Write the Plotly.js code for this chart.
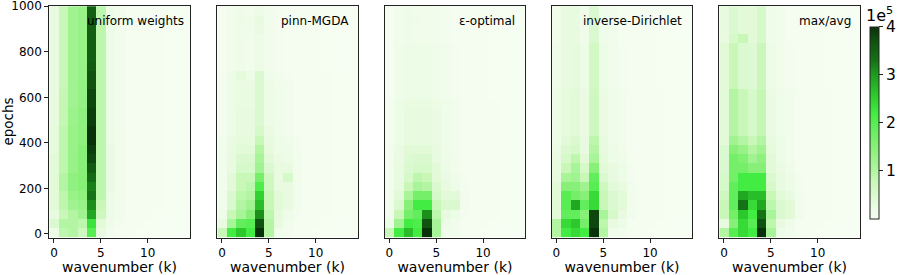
<!DOCTYPE html>
<html>
<head>
<meta charset="utf-8">
<script src="https://cdn.plot.ly/plotly-3.0.1.min.js"></script>
<style>html,body{margin:0;padding:0;background:#fff;}#chart{width:900px;height:275px;}</style>
</head>
<body>
<div id="chart"></div>
<script>
// wavenumber columns
const wavenumbers = [0,1,2,3,4,5,6,7,8,9,10,11,12,13,14];
// epoch row edges (25 rows)
const epochEdges = [-16,24.6,65.3,105.9,146.6,187.2,227.8,268.5,309.1,349.8,390.4,431,471.7,512.3,552.9,593.6,634.2,674.9,715.5,756.2,796.8,837.4,878.1,918.7,959.4,1000];
const xTicks = [0,5,10];
const yTicks = [0,200,400,600,800,1000];
const cbTicks = [1,2,3,4];
const panelTitles = ['uniform weights','pinn-MGDA','ε-optimal','inverse-Dirichlet','max/avg'];

// values in units of 1e5, rows bottom (epoch 0) to top
const zUniform = [
[0.2,0.9,1.0,0.7,2.0,0.3,0.1,0.06,0.04,0.03,0.03,0.02,0.02,0.02,0.02],
[0.5,1.0,1.0,0.9,2.3,0.4,0.15,0.08,0.05,0.04,0.03,0.03,0.02,0.02,0.02],
[0.3,0.8,1.0,1.2,2.9,0.7,0.2,0.1,0.06,0.05,0.04,0.03,0.03,0.03,0.02],
[0.4,0.9,1.2,1.3,3.1,0.8,0.2,0.1,0.06,0.05,0.04,0.04,0.03,0.03,0.03],
[0.4,0.9,1.3,1.4,3.3,0.9,0.22,0.1,0.06,0.05,0.04,0.04,0.03,0.03,0.03],
[0.4,1.0,1.4,1.5,3.2,0.9,0.25,0.1,0.06,0.05,0.04,0.04,0.03,0.03,0.03],
[0.4,1.0,1.4,1.5,3.4,0.9,0.25,0.1,0.06,0.05,0.04,0.04,0.03,0.03,0.03],
[0.4,0.9,1.3,1.5,3.6,0.9,0.25,0.1,0.06,0.05,0.04,0.04,0.03,0.03,0.03],
[0.4,0.9,1.3,1.5,3.8,0.9,0.25,0.1,0.06,0.05,0.04,0.04,0.03,0.03,0.03],
[0.35,0.9,1.3,1.5,3.9,0.9,0.25,0.1,0.06,0.05,0.04,0.04,0.03,0.03,0.03],
[0.35,0.9,1.3,1.4,4.0,0.9,0.22,0.1,0.06,0.05,0.04,0.04,0.03,0.03,0.03],
[0.35,0.9,1.3,1.4,4.0,0.9,0.22,0.1,0.06,0.05,0.04,0.04,0.03,0.03,0.03],
[0.3,0.85,1.25,1.4,3.9,0.9,0.2,0.1,0.06,0.05,0.04,0.04,0.03,0.03,0.03],
[0.3,0.85,1.25,1.4,3.9,0.9,0.2,0.1,0.06,0.05,0.04,0.04,0.03,0.03,0.03],
[0.3,0.85,1.2,1.35,3.8,0.9,0.2,0.1,0.06,0.05,0.04,0.04,0.03,0.03,0.03],
[0.3,0.85,1.2,1.35,3.8,0.9,0.2,0.1,0.06,0.05,0.04,0.04,0.03,0.03,0.03],
[0.3,0.8,1.2,1.35,3.7,0.9,0.2,0.1,0.06,0.05,0.04,0.04,0.03,0.03,0.03],
[0.3,0.8,1.2,1.3,3.7,0.9,0.2,0.1,0.06,0.05,0.04,0.04,0.03,0.03,0.03],
[0.3,0.8,1.2,1.3,3.6,0.9,0.2,0.1,0.06,0.05,0.04,0.04,0.03,0.03,0.03],
[0.3,0.8,1.2,1.3,3.55,0.9,0.2,0.1,0.06,0.05,0.04,0.04,0.03,0.03,0.03],
[0.3,0.8,1.2,1.3,3.55,0.9,0.2,0.1,0.06,0.05,0.04,0.04,0.03,0.03,0.03],
[0.3,0.8,1.2,1.3,3.55,0.9,0.2,0.1,0.06,0.05,0.04,0.04,0.03,0.03,0.03],
[0.3,0.8,1.2,1.3,3.55,0.9,0.2,0.1,0.06,0.05,0.04,0.04,0.03,0.03,0.03],
[0.3,0.8,1.2,1.3,3.55,0.9,0.2,0.1,0.06,0.05,0.04,0.04,0.03,0.03,0.03],
[0.3,0.8,1.2,1.3,3.55,0.9,0.2,0.1,0.06,0.05,0.04,0.04,0.03,0.03,0.03]
];
const zMGDA = [
[0.8,2.2,2.6,2.2,4.1,1.0,0.15,0.1,0.05,0.04,0.03,0.03,0.02,0.02,0.02],
[0.3,1.1,1.9,2.0,3.7,1.0,0.3,0.1,0.06,0.05,0.04,0.03,0.03,0.02,0.02],
[0.15,0.8,1.1,1.5,3.1,0.9,0.35,0.15,0.08,0.06,0.05,0.04,0.03,0.03,0.02],
[0.1,0.5,1.0,1.2,2.7,0.8,0.4,0.3,0.1,0.07,0.05,0.04,0.03,0.03,0.02],
[0.1,0.5,0.9,1.0,2.5,0.8,0.4,0.3,0.1,0.07,0.05,0.04,0.03,0.03,0.02],
[0.1,0.4,0.8,0.9,2.1,0.7,0.3,0.3,0.1,0.07,0.05,0.04,0.03,0.03,0.02],
[0.1,0.4,0.8,0.8,1.7,0.7,0.3,0.6,0.12,0.07,0.05,0.04,0.03,0.03,0.02],
[0.1,0.3,0.6,0.6,1.2,0.5,0.3,0.3,0.1,0.07,0.05,0.04,0.03,0.03,0.02],
[0.1,0.3,0.5,0.5,1.1,0.4,0.25,0.2,0.1,0.06,0.05,0.04,0.03,0.03,0.02],
[0.1,0.3,0.4,0.4,1.0,0.35,0.2,0.2,0.08,0.06,0.05,0.04,0.03,0.03,0.02],
[0.1,0.25,0.35,0.35,0.8,0.3,0.2,0.15,0.08,0.06,0.05,0.04,0.03,0.03,0.02],
[0.08,0.2,0.3,0.3,0.6,0.25,0.15,0.1,0.06,0.05,0.04,0.04,0.03,0.03,0.02],
[0.08,0.2,0.3,0.3,0.5,0.2,0.15,0.1,0.06,0.05,0.04,0.04,0.03,0.03,0.02],
[0.08,0.2,0.3,0.3,0.5,0.2,0.15,0.1,0.06,0.05,0.04,0.04,0.03,0.03,0.02],
[0.08,0.2,0.28,0.28,0.5,0.2,0.15,0.1,0.06,0.05,0.04,0.04,0.03,0.03,0.02],
[0.08,0.2,0.28,0.28,0.5,0.2,0.15,0.1,0.06,0.05,0.04,0.04,0.03,0.03,0.02],
[0.08,0.2,0.28,0.25,0.5,0.2,0.12,0.1,0.06,0.05,0.04,0.04,0.03,0.03,0.02],
[0.08,0.2,0.35,0.2,0.5,0.15,0.1,0.08,0.05,0.05,0.04,0.04,0.03,0.03,0.02],
[0.06,0.12,0.15,0.12,0.2,0.1,0.08,0.06,0.05,0.04,0.04,0.03,0.03,0.02,0.02],
[0.06,0.12,0.15,0.12,0.2,0.1,0.08,0.06,0.05,0.04,0.04,0.03,0.03,0.02,0.02],
[0.06,0.12,0.15,0.12,0.2,0.1,0.08,0.06,0.05,0.04,0.04,0.03,0.03,0.02,0.02],
[0.06,0.12,0.15,0.12,0.2,0.1,0.08,0.06,0.05,0.04,0.04,0.03,0.03,0.02,0.02],
[0.06,0.12,0.18,0.15,0.25,0.1,0.08,0.06,0.05,0.04,0.04,0.03,0.03,0.02,0.02],
[0.06,0.12,0.2,0.18,0.3,0.1,0.08,0.06,0.05,0.04,0.04,0.03,0.03,0.02,0.02],
[0.06,0.1,0.15,0.12,0.2,0.1,0.08,0.06,0.05,0.04,0.04,0.03,0.03,0.02,0.02]
];
const zEpsOpt = [
[0.8,2.2,2.7,2.2,4.1,1.1,0.15,0.1,0.05,0.04,0.03,0.03,0.02,0.02,0.02],
[0.2,1.2,2.2,2.1,3.7,1.1,0.2,0.1,0.06,0.05,0.04,0.03,0.03,0.02,0.02],
[0.1,0.8,1.7,1.9,3.1,0.9,0.3,0.2,0.08,0.06,0.05,0.04,0.03,0.03,0.02],
[0.1,0.5,1.5,2.2,2.2,0.8,0.5,0.5,0.1,0.07,0.05,0.04,0.03,0.03,0.02],
[0.1,0.4,1.1,1.7,1.7,0.6,0.4,0.4,0.1,0.07,0.05,0.04,0.03,0.03,0.02],
[0.1,0.3,0.8,1.1,1.0,0.5,0.3,0.2,0.08,0.06,0.05,0.04,0.03,0.03,0.02],
[0.1,0.3,0.6,0.9,0.8,0.4,0.25,0.15,0.08,0.06,0.05,0.04,0.03,0.03,0.02],
[0.1,0.3,0.5,0.6,0.6,0.4,0.2,0.12,0.06,0.05,0.04,0.04,0.03,0.03,0.02],
[0.1,0.25,0.45,0.5,0.5,0.3,0.2,0.1,0.06,0.05,0.04,0.04,0.03,0.03,0.02],
[0.1,0.25,0.4,0.4,0.4,0.3,0.15,0.1,0.06,0.05,0.04,0.04,0.03,0.03,0.02],
[0.08,0.2,0.3,0.3,0.3,0.25,0.15,0.1,0.06,0.05,0.04,0.04,0.03,0.03,0.02],
[0.08,0.2,0.3,0.3,0.3,0.25,0.15,0.1,0.06,0.05,0.04,0.04,0.03,0.03,0.02],
[0.08,0.2,0.3,0.3,0.3,0.25,0.15,0.1,0.06,0.05,0.04,0.04,0.03,0.03,0.02],
[0.08,0.2,0.3,0.3,0.3,0.25,0.15,0.1,0.06,0.05,0.04,0.04,0.03,0.03,0.02],
[0.08,0.2,0.28,0.28,0.28,0.22,0.15,0.1,0.06,0.05,0.04,0.04,0.03,0.03,0.02],
[0.06,0.15,0.2,0.2,0.2,0.15,0.1,0.08,0.05,0.05,0.04,0.03,0.03,0.03,0.02],
[0.06,0.15,0.2,0.2,0.2,0.15,0.1,0.08,0.05,0.05,0.04,0.03,0.03,0.03,0.02],
[0.06,0.15,0.2,0.2,0.2,0.15,0.1,0.08,0.05,0.05,0.04,0.03,0.03,0.03,0.02],
[0.06,0.15,0.2,0.2,0.2,0.15,0.1,0.08,0.05,0.05,0.04,0.03,0.03,0.03,0.02],
[0.06,0.15,0.2,0.2,0.2,0.15,0.1,0.08,0.05,0.05,0.04,0.03,0.03,0.03,0.02],
[0.06,0.15,0.2,0.2,0.2,0.15,0.1,0.08,0.05,0.05,0.04,0.03,0.03,0.03,0.02],
[0.05,0.1,0.15,0.12,0.12,0.1,0.08,0.06,0.05,0.04,0.04,0.03,0.03,0.02,0.02],
[0.05,0.1,0.18,0.12,0.12,0.1,0.08,0.06,0.05,0.04,0.04,0.03,0.03,0.02,0.02],
[0.05,0.1,0.2,0.15,0.12,0.1,0.08,0.06,0.05,0.04,0.04,0.03,0.03,0.02,0.02],
[0.05,0.1,0.15,0.12,0.12,0.1,0.08,0.06,0.05,0.04,0.04,0.03,0.03,0.02,0.02]
];
const zInvDir = [
[1.0,2.2,2.4,2.2,4.1,1.0,0.15,0.1,0.05,0.04,0.03,0.03,0.02,0.02,0.02],
[1.0,2.4,2.6,1.7,3.8,0.9,0.3,0.2,0.06,0.05,0.04,0.03,0.03,0.02,0.02],
[0.4,1.9,1.9,1.5,3.8,1.1,0.6,0.3,0.1,0.06,0.05,0.04,0.03,0.03,0.02],
[0.4,2.0,2.9,1.9,2.4,0.8,0.5,0.4,0.1,0.07,0.05,0.04,0.03,0.03,0.02],
[0.4,2.0,1.7,1.5,2.4,0.8,0.5,0.4,0.1,0.07,0.05,0.04,0.03,0.03,0.02],
[0.4,1.5,1.5,1.2,2.0,0.7,0.4,0.3,0.1,0.07,0.05,0.04,0.03,0.03,0.02],
[0.3,1.1,1.2,0.8,1.9,0.5,0.3,0.2,0.08,0.06,0.05,0.04,0.03,0.03,0.02],
[0.3,0.8,1.1,0.6,1.5,0.4,0.3,0.2,0.08,0.06,0.05,0.04,0.03,0.03,0.02],
[0.3,0.6,0.9,0.4,1.1,0.35,0.2,0.15,0.07,0.06,0.05,0.04,0.03,0.03,0.02],
[0.25,0.5,0.6,0.3,1.0,0.3,0.2,0.12,0.07,0.06,0.05,0.04,0.03,0.03,0.02],
[0.2,0.4,0.5,0.3,0.9,0.3,0.15,0.1,0.06,0.05,0.04,0.04,0.03,0.03,0.02],
[0.2,0.35,0.4,0.25,0.7,0.25,0.15,0.1,0.06,0.05,0.04,0.04,0.03,0.03,0.02],
[0.2,0.35,0.4,0.25,0.7,0.25,0.15,0.1,0.06,0.05,0.04,0.04,0.03,0.03,0.02],
[0.2,0.35,0.4,0.25,0.7,0.25,0.15,0.1,0.06,0.05,0.04,0.04,0.03,0.03,0.02],
[0.2,0.35,0.4,0.25,0.7,0.25,0.15,0.1,0.06,0.05,0.04,0.04,0.03,0.03,0.02],
[0.2,0.35,0.4,0.25,0.7,0.25,0.15,0.1,0.06,0.05,0.04,0.04,0.03,0.03,0.02],
[0.15,0.3,0.35,0.2,0.65,0.2,0.12,0.08,0.05,0.05,0.04,0.03,0.03,0.03,0.02],
[0.15,0.3,0.35,0.2,0.65,0.2,0.12,0.08,0.05,0.05,0.04,0.03,0.03,0.03,0.02],
[0.15,0.3,0.35,0.2,0.65,0.2,0.12,0.08,0.05,0.05,0.04,0.03,0.03,0.03,0.02],
[0.15,0.3,0.35,0.2,0.65,0.2,0.12,0.08,0.05,0.05,0.04,0.03,0.03,0.03,0.02],
[0.15,0.3,0.35,0.2,0.65,0.2,0.12,0.08,0.05,0.05,0.04,0.03,0.03,0.03,0.02],
[0.12,0.3,0.3,0.15,0.5,0.15,0.1,0.06,0.05,0.04,0.04,0.03,0.03,0.02,0.02],
[0.12,0.3,0.3,0.15,0.5,0.15,0.1,0.06,0.05,0.04,0.04,0.03,0.03,0.02,0.02],
[0.12,0.3,0.3,0.15,0.5,0.15,0.1,0.06,0.05,0.04,0.04,0.03,0.03,0.02,0.02],
[0.12,0.3,0.3,0.15,0.5,0.15,0.1,0.06,0.05,0.04,0.04,0.03,0.03,0.02,0.02]
];
const zMaxAvg = [
[1.0,2.0,2.4,2.2,4.1,1.1,0.2,0.1,0.05,0.04,0.03,0.03,0.02,0.02,0.02],
[0.3,1.5,2.4,2.0,3.7,0.9,0.3,0.15,0.06,0.05,0.04,0.03,0.03,0.02,0.02],
[0.8,1.7,2.6,2.2,3.3,1.1,0.5,0.4,0.1,0.06,0.05,0.04,0.03,0.03,0.02],
[0.8,1.9,3.3,2.4,2.9,0.9,0.5,0.4,0.1,0.07,0.05,0.04,0.03,0.03,0.02],
[0.7,1.9,2.9,2.7,2.7,0.8,0.4,0.3,0.1,0.07,0.05,0.04,0.03,0.03,0.02],
[0.6,1.9,2.2,2.2,2.2,0.6,0.3,0.2,0.08,0.06,0.05,0.04,0.03,0.03,0.02],
[0.6,1.7,2.2,2.2,2.2,0.5,0.3,0.2,0.08,0.06,0.05,0.04,0.03,0.03,0.02],
[0.5,1.7,1.7,1.5,1.5,0.4,0.25,0.15,0.07,0.06,0.05,0.04,0.03,0.03,0.02],
[0.5,1.7,1.6,1.2,1.4,0.4,0.2,0.12,0.07,0.06,0.05,0.04,0.03,0.03,0.02],
[0.5,1.5,1.3,1.0,1.2,0.35,0.2,0.1,0.06,0.05,0.04,0.04,0.03,0.03,0.02],
[0.4,1.2,1.0,0.8,1.0,0.3,0.2,0.1,0.06,0.05,0.04,0.04,0.03,0.03,0.02],
[0.4,1.0,0.8,0.6,0.85,0.25,0.15,0.1,0.06,0.05,0.04,0.04,0.03,0.03,0.02],
[0.4,1.0,0.8,0.6,0.85,0.25,0.15,0.1,0.06,0.05,0.04,0.04,0.03,0.03,0.02],
[0.4,1.0,0.8,0.6,0.85,0.25,0.15,0.1,0.06,0.05,0.04,0.04,0.03,0.03,0.02],
[0.4,1.0,0.8,0.6,0.85,0.25,0.15,0.1,0.06,0.05,0.04,0.04,0.03,0.03,0.02],
[0.4,1.0,0.8,0.6,0.85,0.25,0.15,0.1,0.06,0.05,0.04,0.04,0.03,0.03,0.02],
[0.4,0.8,0.5,0.45,0.75,0.2,0.12,0.08,0.05,0.05,0.04,0.03,0.03,0.03,0.02],
[0.4,0.8,0.5,0.45,0.75,0.2,0.12,0.08,0.05,0.05,0.04,0.03,0.03,0.03,0.02],
[0.4,0.8,0.5,0.45,0.75,0.2,0.12,0.08,0.05,0.05,0.04,0.03,0.03,0.03,0.02],
[0.4,0.8,0.5,0.45,0.75,0.2,0.12,0.08,0.05,0.05,0.04,0.03,0.03,0.03,0.02],
[0.4,0.8,0.5,0.45,0.75,0.2,0.12,0.08,0.05,0.05,0.04,0.03,0.03,0.03,0.02],
[0.3,0.6,0.8,0.4,0.6,0.15,0.1,0.06,0.05,0.04,0.04,0.03,0.03,0.02,0.02],
[0.3,0.5,0.4,0.4,0.6,0.15,0.1,0.06,0.05,0.04,0.04,0.03,0.03,0.02,0.02],
[0.3,0.5,0.4,0.4,0.6,0.15,0.1,0.06,0.05,0.04,0.04,0.03,0.03,0.02,0.02],
[0.3,0.5,0.4,0.4,0.6,0.15,0.1,0.06,0.05,0.04,0.04,0.03,0.03,0.02,0.02]
];
const panels = [zUniform, zMGDA, zEpsOpt, zInvDir, zMaxAvg];
const SCALE = 1e5;

const FONT = 'DejaVu Sans, Liberation Sans, sans-serif';
const W = 900, H = 275;
const panelLeft = [49.3, 217.3, 384.7, 551.7, 719.3];
const titleX = [0.973, 0.95, 0.945, 0.94, 0.955];
const panelWidth = 140.5;
const plotTop = 5.6, plotBottom = 237.5;

const colorscale = [
  [0.0,'#f7fdf3'],
  [0.075,'#e8fbe0'],
  [0.2,'#c8f7b8'],
  [0.275,'#a8f498'],
  [0.375,'#88f078'],
  [0.475,'#62ee5c'],
  [0.55,'#42ec42'],
  [0.65,'#2cc82c'],
  [0.75,'#1f9c1f'],
  [0.825,'#167216'],
  [0.925,'#105210'],
  [1.0,'#0a320a']
];

const data = panels.map((z, i) => ({
  type: 'heatmap',
  x: wavenumbers,
  y: epochEdges,
  z: z.map(row => row.map(v => v * SCALE)),
  coloraxis: 'coloraxis',
  xaxis: i === 0 ? 'x' : 'x' + (i + 1),
  yaxis: i === 0 ? 'y' : 'y' + (i + 1),
  hoverinfo: 'skip'
}));

const layout = {
  width: W, height: H,
  margin: {l: 0, r: 0, t: 0, b: 0},
  paper_bgcolor: '#ffffff',
  plot_bgcolor: '#ffffff',
  font: {family: FONT, color: '#000', size: 12},
  showlegend: false,
  coloraxis: {
    cmin: 0, cmax: 4 * SCALE,
    colorscale: colorscale,
    colorbar: {
      thickness: 9, thicknessmode: 'pixels',
      len: 192, lenmode: 'pixels',
      x: 869.5 / W, xanchor: 'left', xref: 'paper',
      y: 1 - 122.9 / H, yanchor: 'middle', yref: 'paper',
      xpad: 0, ypad: 0,
      outlinewidth: 1, outlinecolor: '#222',
      tickvals: cbTicks.map(v => v * SCALE),
      ticktext: cbTicks.map(String),
      ticks: 'outside', ticklen: 4, tickwidth: 1, tickcolor: '#222',
      tickfont: {family: FONT, size: 15.5, color: '#000'}
    }
  },
  annotations: []
};

panelTitles.forEach((t, i) => {
  const xa = i === 0 ? 'xaxis' : 'xaxis' + (i + 1);
  const ya = i === 0 ? 'yaxis' : 'yaxis' + (i + 1);
  const x0 = panelLeft[i] / W, x1 = (panelLeft[i] + panelWidth) / W;
  layout[xa] = {
    domain: [x0, x1],
    anchor: i === 0 ? 'y' : 'y' + (i + 1),
    range: [-0.5, 14.5],
    tickvals: xTicks,
    ticks: 'outside', ticklen: 4, tickwidth: 1, tickcolor: '#222',
    tickfont: {family: FONT, size: 12, color: '#000'},
    showline: true, mirror: true, linecolor: '#222', linewidth: 1,
    showgrid: false, zeroline: false,
    fixedrange: true,
    title: {text: 'wavenumber (k)', font: {family: FONT, size: 14, color: '#000'}, standoff: 3}
  };
  const yax = {
    domain: [1 - plotBottom / H, 1 - plotTop / H],
    anchor: i === 0 ? 'x' : 'x' + (i + 1),
    range: [-16, 1003],
    tickvals: yTicks,
    ticks: i === 0 ? 'outside' : '',
    ticklen: 4, tickwidth: 1, tickcolor: '#222',
    showticklabels: i === 0,
    ticklabeloverflow: 'allow',
    tickfont: {family: FONT, size: 12, color: '#000'},
    showline: true, mirror: true, linecolor: '#222', linewidth: 1,
    showgrid: false, zeroline: false,
    fixedrange: true
  };
  if (i === 0) yax.title = {text: 'epochs', font: {family: FONT, size: 13.5, color: '#000'}, standoff: 5};
  layout[ya] = yax;
  layout.annotations.push({
    text: t,
    xref: (i === 0 ? 'x' : 'x' + (i + 1)) + ' domain',
    yref: (i === 0 ? 'y' : 'y' + (i + 1)) + ' domain',
    x: titleX[i], y: 0.935,
    xanchor: 'right', yanchor: 'middle',
    showarrow: false,
    font: {family: FONT, size: 12, color: '#000'}
  });
});

layout.annotations.push({
  text: '1e<sup>5</sup>',
  xref: 'paper', yref: 'paper',
  x: 864 / W, y: 1 - 14.5 / H,
  xanchor: 'left', yanchor: 'middle',
  showarrow: false,
  font: {family: FONT, size: 16, color: '#000'}
});

Plotly.newPlot('chart', data, layout, {staticPlot: true, displayModeBar: false});
</script>
</body>
</html>
